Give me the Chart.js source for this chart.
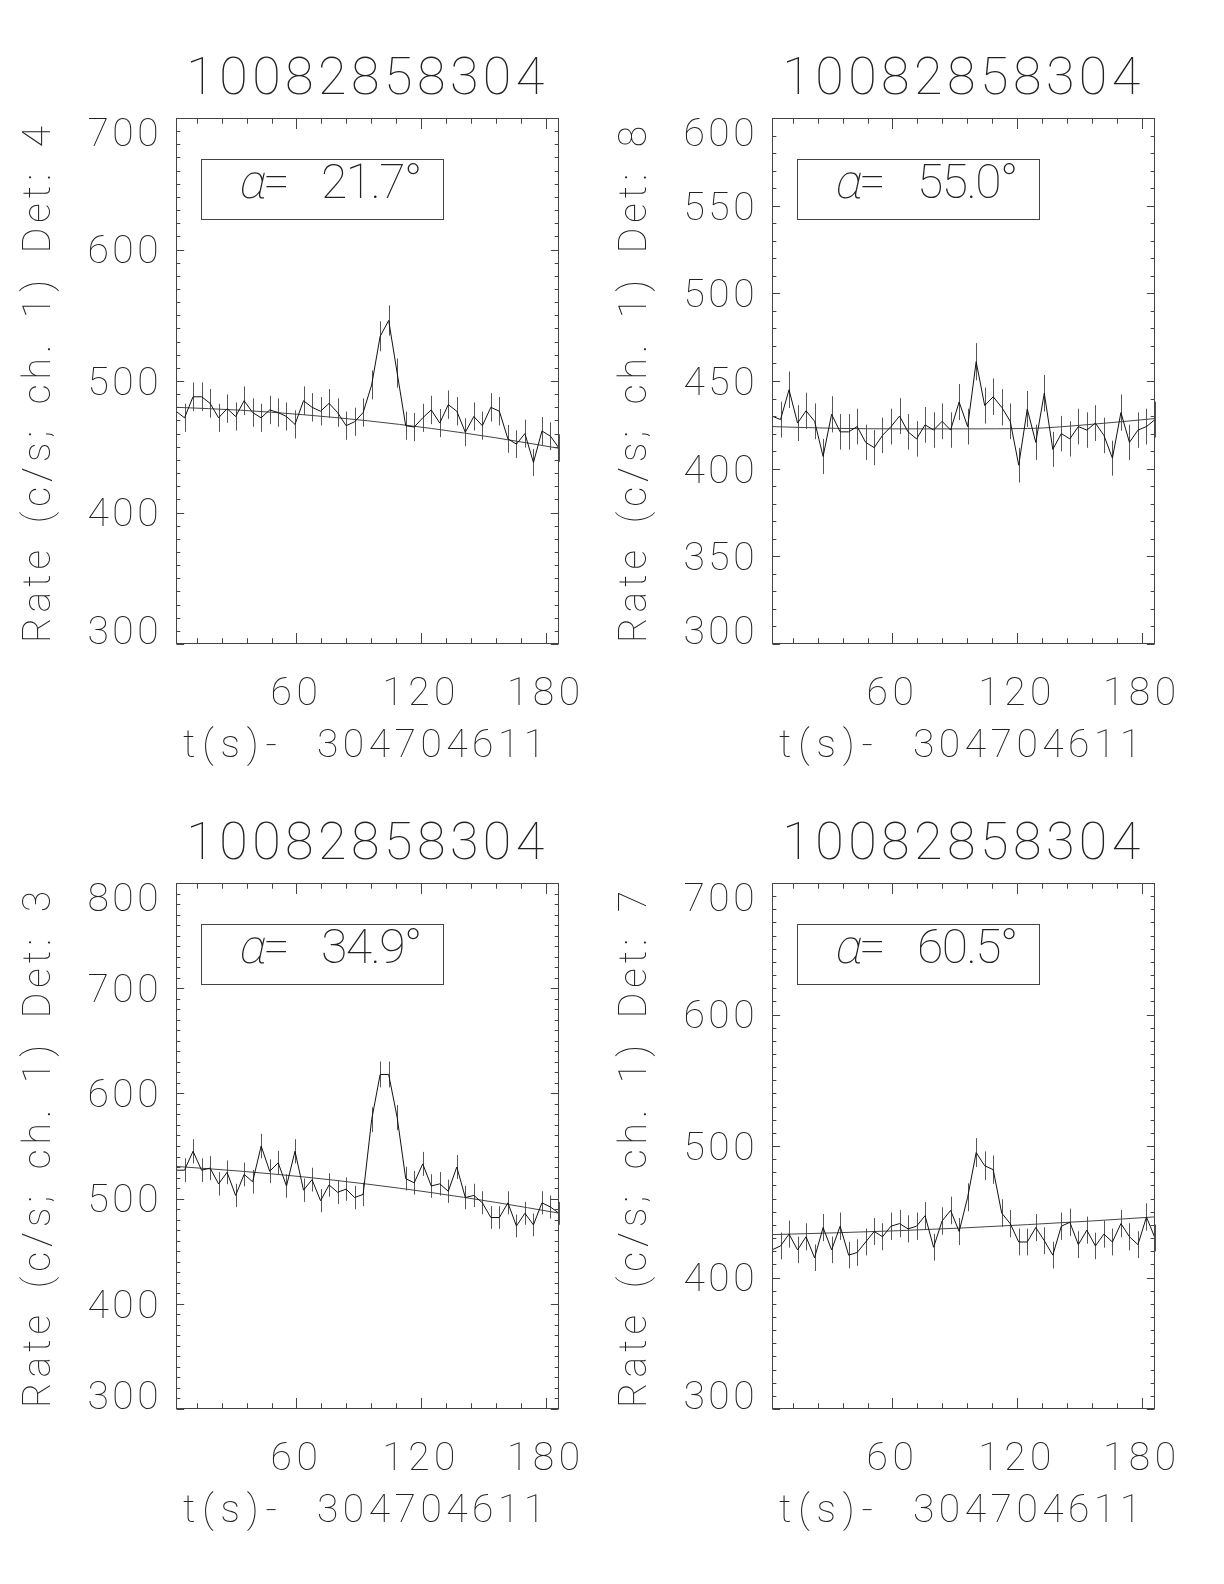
<!DOCTYPE html>
<html>
<head>
<meta charset="utf-8">
<script src="https://cdn.jsdelivr.net/npm/chart.js@4.4.1/dist/chart.umd.min.js"></script>
<style>
  html, body { margin: 0; padding: 0; background: #fff; }
  #page { position: relative; width: 1224px; height: 1584px; overflow: hidden; }
  canvas { position: absolute; }
</style>
</head>
<body>
<div id="page">
  <canvas id="det4" width="612" height="792" style="left:0px;top:0px"></canvas>
  <canvas id="det8" width="612" height="792" style="left:596px;top:0px"></canvas>
  <canvas id="det3" width="612" height="792" style="left:0px;top:765px"></canvas>
  <canvas id="det7" width="612" height="792" style="left:596px;top:765px"></canvas>
</div>
<script>
// time bins (s after 304704611), 4.096 s bins
const times = [2.0, 6.1, 10.2, 14.3, 18.4, 22.5, 26.6, 30.7, 34.8, 38.9, 43.0, 47.1, 51.2, 55.2, 59.3,
  63.4, 67.5, 71.6, 75.7, 79.8, 83.9, 88.0, 92.1, 96.2, 100.3, 104.4, 108.5, 112.6, 116.7, 120.8,
  124.9, 129.0, 133.1, 137.2, 141.3, 145.4, 149.5, 153.6, 157.7, 161.8, 165.9, 170.0, 174.1, 178.2,
  182.3, 186.4];
const fitTimes = [2.0, 33.0, 63.0, 94.0, 125.0, 156.0, 186.4];

const rateDet4 = [477,472,488,488,483,472,479,473,485,476,472,478,476,473,467,485,480,477,483,476,
  466,469,476,497,534,546,506,466,465,472,478,468,482,477,461,473,466,480,477,456,452,460,438,462,458,449];
const errDet4 = [10.8,10.7,10.9,10.9,10.9,10.7,10.8,10.7,10.9,10.8,10.7,10.8,10.8,10.7,10.7,10.9,10.8,
  10.8,10.9,10.8,10.7,10.7,10.8,11.0,11.4,11.5,11.1,10.7,10.7,10.7,10.8,10.7,10.8,10.8,10.6,10.7,10.7,
  10.8,10.8,10.6,10.5,10.6,10.3,10.6,10.6,10.5];
const fitDet4 = [480.0, 477.8, 474.4, 469.8, 463.9, 456.8, 448.8];

const rateDet8 = [430,428,445,426,433,427,407,431,421,421,424,415,412,419,424,430,421,417,425,422,
  427,422,438,424,461,436,441,435,427,402,434,415,443,411,420,417,424,422,426,419,406,432,415,422,424,428];
const errDet8 = [10.2,10.2,10.4,10.2,10.3,10.2,10.0,10.3,10.1,10.1,10.2,10.1,10.0,10.1,10.2,10.2,10.1,
  10.1,10.2,10.1,10.2,10.1,10.3,10.2,10.6,10.3,10.4,10.3,10.2,9.9,10.3,10.1,10.4,10.0,10.1,10.1,10.2,
  10.1,10.2,10.1,10.0,10.3,10.1,10.1,10.2,10.2];
const fitDet8 = [424.0, 423.0, 422.7, 422.7, 422.9, 425.3, 428.6];

const rateDet3 = [527,527,545,527,529,514,525,503,523,516,550,526,534,512,545,508,518,498,513,506,
  509,501,504,575,618,618,577,519,515,533,512,514,507,530,501,503,496,482,482,496,474,486,475,496,492,486];
const errDet3 = [11.3,11.3,11.5,11.3,11.4,11.2,11.3,11.1,11.3,11.2,11.6,11.3,11.4,11.2,11.5,11.1,11.3,
  11.0,11.2,11.1,11.1,11.1,11.1,11.8,12.3,12.3,11.9,11.3,11.2,11.4,11.2,11.2,11.1,11.4,11.1,11.1,11.0,
  10.8,10.8,11.0,10.8,10.9,10.8,11.0,11.0,10.9];
const fitDet3 = [530.6, 526.1, 520.7, 513.8, 505.7, 496.4, 486.2];

const rateDet7 = [421,424,433,421,431,415,438,421,439,417,419,427,435,431,439,441,437,439,447,423,
  443,451,435,461,495,485,482,449,441,427,427,438,428,417,439,442,425,436,424,433,427,441,431,425,446,430];
const errDet7 = [10.1,10.2,10.3,10.1,10.3,10.1,10.3,10.1,10.4,10.1,10.1,10.2,10.3,10.3,10.4,10.4,10.3,
  10.4,10.4,10.2,10.4,10.5,10.3,10.6,11.0,10.9,10.8,10.5,10.4,10.2,10.2,10.3,10.2,10.1,10.4,10.4,10.2,
  10.3,10.1,10.3,10.2,10.4,10.3,10.2,10.4,10.2];
const fitDet7 = [432.6, 434.0, 435.6, 437.7, 440.2, 443.0, 446.1];

const xTickValues = [60, 120, 180];
const xTickLabels = ['60', '120', '180'];
const burstId = '10082858304';
const xTitleUnit = 't(s)-';
const xTitleOffset = '304704611';

const FONT = 'Roboto, "DejaVu Sans", sans-serif';
const INK = '#222';

function drawSpaced(ctx, text, x, y, ls, ws) {
  ctx.letterSpacing = ls + 'px';
  ctx.wordSpacing = (ws || 0) + 'px';
  ctx.fillText(text, x, y);
  ctx.letterSpacing = '0px';
  ctx.wordSpacing = '0px';
}

function plainWidth(ctx, text) {
  ctx.letterSpacing = '0px';
  ctx.wordSpacing = '0px';
  return ctx.measureText(text).width;
}

// frame, inward ticks, error bars, y labels, axis titles and the alpha box
function idlFrame(p) {
  return {
    id: 'idlFrame',
    beforeDraw(chart) {
      chart.ctx.letterSpacing = '4.5px';
    },
    beforeDatasetsDraw(chart) {
      const {ctx, scales: {x, y}} = chart;
      ctx.save();
      ctx.strokeStyle = '#555';
      ctx.lineWidth = 1;
      ctx.beginPath();
      times.forEach((t, i) => {
        const px = Math.round(x.getPixelForValue(t)) + 0.5;
        ctx.moveTo(px, y.getPixelForValue(p.rate[i] + p.err[i]));
        ctx.lineTo(px, y.getPixelForValue(p.rate[i] - p.err[i]));
      });
      ctx.stroke();
      ctx.restore();
    },
    afterDraw(chart) {
      const {ctx, chartArea: a, scales: {x, y}} = chart;
      const L = Math.round(a.left) + 0.5, R = Math.round(a.right) - 0.5;
      const T = Math.round(a.top) + 0.5, B = Math.round(a.bottom) - 0.5;
      ctx.save();
      ctx.strokeStyle = '#444';
      ctx.lineWidth = 1;
      ctx.strokeRect(L, T, R - L, B - T);

      const xLen = 0.02 * (a.bottom - a.top), yLen = 0.02 * (a.right - a.left);
      ctx.beginPath();
      for (let v = Math.ceil(x.min / 12) * 12; v <= x.max; v += 12) {
        const px = Math.round(x.getPixelForValue(v)) + 0.5;
        const len = v % 60 === 0 ? xLen : xLen / 2;
        ctx.moveTo(px, B); ctx.lineTo(px, B - len);
        ctx.moveTo(px, T); ctx.lineTo(px, T + len);
      }
      for (let v = y.min; v <= y.max; v += 10) {
        const py = Math.round(y.getPixelForValue(v)) + 0.5;
        const len = (v - y.min) % p.yStep === 0 ? yLen : yLen / 2;
        ctx.moveTo(L, py); ctx.lineTo(L + len, py);
        ctx.moveTo(R, py); ctx.lineTo(R - len, py);
      }
      ctx.stroke();

      // y tick labels, end labels kept inside the frame like IDL does
      const size = 39, cap = 0.711 * size;
      ctx.fillStyle = INK;
      ctx.font = `100 ${size}px ${FONT}`;
      ctx.textAlign = 'right';
      ctx.textBaseline = 'alphabetic';
      ctx.letterSpacing = '3.5px';
      y.ticks.forEach(tk => {
        let cy = y.getPixelForValue(tk.value);
        cy = Math.min(Math.max(cy, a.top + cap / 2), a.bottom - cap / 2);
        ctx.fillText(tk.label, a.left - 14, cy + cap / 2);
      });

      // x title: unit part and time offset
      ctx.textAlign = 'left';
      const wUnit = plainWidth(ctx, xTitleUnit);
      drawSpaced(ctx, xTitleUnit, a.left + 7, a.bottom + 113, (94 - wUnit) / 4);
      drawSpaced(ctx, xTitleOffset, a.left + 141, a.bottom + 113, 4.5);

      // y title, spread to the same length as the reference
      const yTitle = `Rate (c/s; ch. 1) Det: ${p.det}`;
      const w0 = plainWidth(ctx, yTitle);
      const ls = 5, nSp = yTitle.split(' ').length - 1;
      const ws = Math.max(0, (517 - w0 - ls * (yTitle.length - 1)) / nSp);
      ctx.save();
      ctx.translate(a.left - 126, a.bottom - 1);
      ctx.rotate(-Math.PI / 2);
      drawSpaced(ctx, yTitle, 0, 0, ls, ws);
      ctx.restore();

      // alpha box
      ctx.strokeStyle = '#444';
      ctx.strokeRect(Math.round(a.left) + 25.5, Math.round(a.top) + 41.5, 242, 60);
      const bx = a.left + 61, by = a.top + 80;
      ctx.letterSpacing = '0px';
      ctx.save();
      ctx.translate(bx, by);
      ctx.transform(1, 0, -0.22, 1, 0, 0);
      ctx.font = `100 48px ${FONT}`;
      ctx.fillText('α', 0, 0);
      ctx.restore();
      ctx.font = `100 48px ${FONT}`;
      ctx.fillText('=', bx + 26, by);
      ctx.letterSpacing = '-1.5px';
      ctx.fillText(`${p.alpha}°`, bx + 84, by);
      ctx.restore();
    }
  };
}

function makePanel(id, p) {
  const ctx = document.getElementById(id);
  return new Chart(ctx, {
    type: 'line',
    data: {
      datasets: [
        {
          data: times.map((t, i) => ({x: t, y: p.rate[i]})),
          borderColor: '#111', borderWidth: 1, pointRadius: 0, tension: 0
        },
        {
          data: fitTimes.map((t, i) => ({x: t, y: p.fit[i]})),
          borderColor: '#444', borderWidth: 1, pointRadius: 0, cubicInterpolationMode: 'monotone'
        }
      ]
    },
    options: {
      responsive: false,
      animation: false,
      devicePixelRatio: 1,
      layout: {padding: {left: 0, right: 53, top: 0, bottom: 0}},
      plugins: {
        legend: {display: false},
        tooltip: {enabled: false},
        title: {
          display: true, text: burstId, fullSize: false, color: INK,
          font: {family: FONT, size: 52, weight: 100, lineHeight: 1},
          padding: {top: 55, bottom: 11}
        }
      },
      scales: {
        x: {
          type: 'linear', min: times[0], max: times[times.length - 1],
          grid: {display: false, drawTicks: false}, border: {display: false},
          ticks: {
            stepSize: 60, includeBounds: false, padding: 32, color: INK,
            maxRotation: 0, autoSkip: false,
            font: {family: FONT, size: 39, weight: 100, lineHeight: 1},
            callback: v => xTickLabels[xTickValues.indexOf(v)] ?? ''
          },
          afterFit: s => { s.height = 148; }
        },
        y: {
          type: 'linear', min: p.yMin, max: p.yMax,
          grid: {display: false, drawTicks: false}, border: {display: false},
          ticks: {display: false, stepSize: p.yStep},
          afterFit: s => { s.width = 176; }
        }
      }
    },
    plugins: [idlFrame(p)]
  });
}

makePanel('det4', {rate: rateDet4, err: errDet4, fit: fitDet4, yMin: 300, yMax: 700, yStep: 100, det: 4, alpha: '21.7'});
makePanel('det8', {rate: rateDet8, err: errDet8, fit: fitDet8, yMin: 300, yMax: 600, yStep: 50, det: 8, alpha: '55.0'});
makePanel('det3', {rate: rateDet3, err: errDet3, fit: fitDet3, yMin: 300, yMax: 800, yStep: 100, det: 3, alpha: '34.9'});
makePanel('det7', {rate: rateDet7, err: errDet7, fit: fitDet7, yMin: 300, yMax: 700, yStep: 100, det: 7, alpha: '60.5'});
</script>
</body>
</html>
